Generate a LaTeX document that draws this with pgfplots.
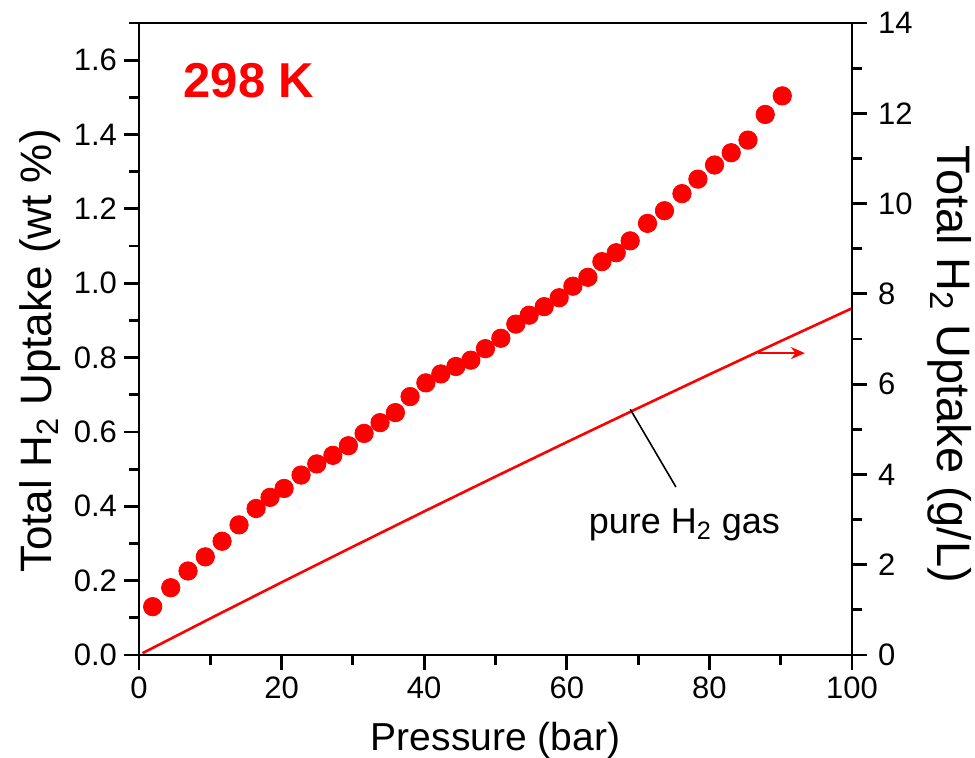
\documentclass[border=0pt]{standalone}
\usepackage{fontspec}
\setmainfont{Liberation Sans}
\usepackage{pgfplots}
\pgfplotsset{compat=1.18}
\usetikzlibrary{arrows.meta}
\begin{document}
\begin{tikzpicture}
\pgfplotsset{
  every axis/.append style={
    scale only axis, width=356.5pt, height=316pt,
    at={(0pt,0pt)}, anchor=south west,
    xmin=0, xmax=100, clip=false,
    tick align=outside, major tick length=7.5pt, minor tick length=5pt,
    every tick/.style={black, line width=1.4pt},
    axis line style={line width=1.4pt},
    tick label style={font=\fontsize{15.5}{18}\selectfont},
    /pgf/number format/assume math mode=true,
  },
}
\begin{axis}[
  ymin=0, ymax=1.7,
  xtick={0,20,40,60,80,100}, minor xtick={10,30,50,70,90},
  ytick={0,0.2,0.4,0.6,0.8,1.0,1.2,1.4,1.6},
  minor ytick={0.1,0.3,0.5,0.7,0.9,1.1,1.3,1.5,1.7},
  xtick pos=left, ytick pos=left,
  yticklabel style={/pgf/number format/.cd, fixed, fixed zerofill, precision=1},
]
\addplot[red, line width=1.3pt] coordinates {
(0.5,0.0049) (10,0.0983) (20,0.1954) (30,0.2913) (40,0.3862) (50,0.4799)
(60,0.5726) (70,0.6641) (80,0.7547) (90,0.8442) (100,0.9326)
};
\addplot[only marks, mark=*, mark size=4.6pt, color=red, fill=red] coordinates {
(1.92,0.130) (4.45,0.181) (6.88,0.226) (9.30,0.264) (11.65,0.306) (14.03,0.350)
(16.42,0.394) (18.38,0.424) (20.35,0.448) (22.73,0.484) (24.93,0.514) (27.19,0.537)
(29.37,0.563) (31.57,0.596) (33.81,0.625) (35.96,0.652) (38.02,0.695) (40.23,0.732)
(42.33,0.756) (44.44,0.776) (46.54,0.793) (48.59,0.824) (50.75,0.852) (52.85,0.890)
(54.72,0.914) (56.83,0.937) (58.93,0.961) (60.85,0.992) (62.96,1.016) (64.92,1.058)
(66.93,1.082) (68.89,1.114) (71.32,1.161) (73.70,1.195) (76.15,1.241) (78.39,1.280)
(80.72,1.318) (83.06,1.351) (85.41,1.385) (87.83,1.454) (90.22,1.504)
};
\draw[red, line width=1.2pt, -{Stealth[length=7pt, width=6pt]}] (axis cs:86.8,0.812) -- (axis cs:93.4,0.812);
\draw[black, line width=0.8pt] (axis cs:68.9,0.661) -- (axis cs:75.3,0.452);
\node[font=\fontsize{18}{21}\selectfont, inner sep=0pt] at (axis cs:76.5,0.35) {pure H\textsubscript{2} gas};
\node[anchor=west, inner sep=0pt, text=red, font=\bfseries\fontsize{24.5}{28}\selectfont] at (axis cs:6.2,1.546) {298 K};
\node[font=\fontsize{19.5}{24}\selectfont, inner sep=0pt] at (rel axis cs:0.5,-0.1345) {Pressure (bar)};
\node[rotate=90, font=\fontsize{22}{26}\selectfont, inner sep=0pt] at (rel axis cs:-0.139,0.481) {Total H\textsubscript{2} Uptake (wt \%)};
\end{axis}
\begin{axis}[
  ymin=0, ymax=14,
  axis y line*=right, axis x line=none,
  ytick={0,2,4,6,8,10,12,14}, minor ytick={1,3,5,7,9,11,13},
  yticklabel style={xshift=2pt},
]
\node[rotate=-90, font=\fontsize{23.5}{27}\selectfont, inner sep=0pt] at (rel axis cs:1.137,0.46) {Total H\textsubscript{2} Uptake (g/L)};
\end{axis}
\pgfresetboundingbox
\path (-69.5pt,-51.5pt) rectangle (418pt,327.5pt);
\end{tikzpicture}
\end{document}
